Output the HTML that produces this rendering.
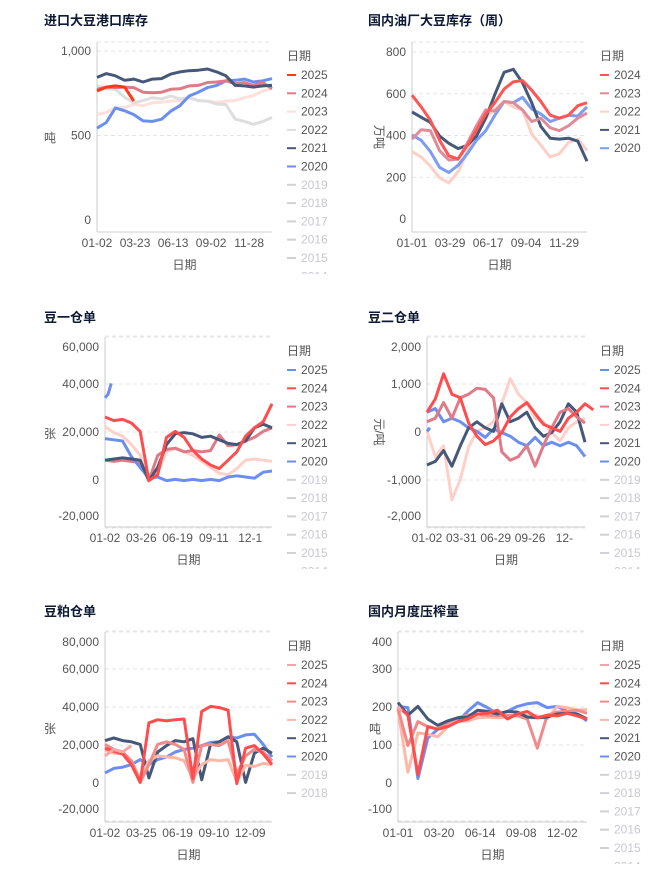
<!DOCTYPE html>
<html><head><meta charset="utf-8"><style>
body{margin:0;background:#fff;}
svg{display:block;font-family:"Liberation Sans","Noto Sans CJK SC",sans-serif;}
</style></head><body>
<svg id="c" width="672" height="876" viewBox="0 0 672 876"></svg>
<script>
// ---- data ----
const years = ["2025","2024","2023","2022","2021","2020","2019","2018","2017","2016","2015","2014"];
// Panel 1: 进口大豆港口库存
const p1_2025=[760,790,790,790,700];
const p1_2024=[770,790,780,790,780,760,750,760,770,780,790,800,810,820,820,810,810,800,810,780];
const p1_2023=[620,640,660,670,680,680,690,700,700,710,720,710,700,700,700,710,720,740,760,780];
const p1_2022=[790,780,770,730,690,710,720,720,730,720,720,710,700,690,680,600,580,570,580,610];
const p1_2021=[840,870,850,830,830,820,830,840,860,880,880,890,890,880,850,800,790,790,790,800];
const p1_2020=[540,580,660,650,620,590,580,600,640,680,730,760,780,800,820,830,830,820,820,840];
const p1_ticks=[0,500,1000];
const p1_xlabels=["01-02","03-23","06-13","09-02","11-28"];
// Panel 2: 国内油厂大豆库存（周）
const p2_2024=[590,540,470,380,300,290,350,430,500,560,620,660,660,620,560,500,480,500,540,560];
const p2_2023=[380,430,420,330,280,290,360,450,520,520,560,560,520,470,480,440,420,450,480,510];
const p2_2022=[320,300,250,200,170,230,320,400,480,530,560,540,520,410,350,300,310,370,380,330];
const p2_2021=[510,490,460,400,360,340,350,400,480,600,700,720,650,560,440,390,380,390,370,280];
const p2_2020=[400,380,320,250,220,260,310,380,420,500,560,560,580,530,500,470,480,500,490,540];
const p2_ticks=[0,200,400,600,800];
const p2_xlabels=["01-01","03-29","06-17","09-04","11-29"];
// Panel 3: 豆一仓单
const p3_2025=[34000,36000,40000];
const p3_2024=[26000,25000,25000,24000,20000,0,2000,18000,20000,18000,12000,9000,6000,5000,8000,12000,18000,22000,24000,32000];
const p3_2023=[8000,8000,8000,8000,7000,0,10000,13000,13000,12000,12000,12000,12000,19000,14000,15000,16000,18000,20000,22000];
const p3_2022=[22000,20000,18000,15000,10000,0,3000,12000,13000,12000,10000,8000,5000,3000,2000,5000,8000,9000,8000,8000];
const p3_2021=[8000,9000,9000,9000,8000,0,5000,15000,19000,20000,19000,18000,18000,17000,15000,15000,16000,22000,23000,22000];
const p3_2020=[17000,17000,16000,10000,5000,1000,1000,0,0,0,0,0,0,0,1000,2000,1000,1000,3000,4000];
const p3_ticks=[-20000,0,20000,40000,60000];
const p3_xlabels=["01-02","03-26","06-19","09-11","12-1"];
// Panel 4: 豆二仓单
const p4_2025=[0,100];
const p4_2024=[400,700,1200,800,700,200,-100,-250,-200,0,300,500,600,400,150,100,0,300,400,600,450];
const p4_2023=[200,300,600,300,700,800,900,900,700,-400,-600,-500,-300,-700,-300,100,400,500,300,200];
const p4_2022=[0,-500,-300,-1400,-1000,-300,0,100,200,600,1100,800,600,300,200,0,-200,100,200,300];
const p4_2021=[-700,-600,-400,-700,-300,100,200,100,0,600,200,300,400,100,-100,0,200,600,400,-200];
const p4_2020=[400,500,200,300,200,100,0,-100,50,0,-100,-200,-300,-100,-300,-200,-300,-200,-300,-500];
const p4_ticks=[-2000,-1000,0,1000,2000];
const p4_xlabels=["01-02","03-31","06-29","09-26","12-"];
// Panel 5: 豆粕仓单
const p5_2025=[14000,18000,16000,20000];
const p5_2024=[18000,17000,15000,10000,0,32000,33000,33000,33000,34000,2000,38000,40000,40000,38000,0,18000,20000,15000,10000];
const p5_2023=[20000,18000,16000,12000,0,10000,20000,22000,20000,18000,0,20000,20000,20000,22000,5000,14000,18000,16000,12000];
const p5_2022=[17000,16000,15000,12000,2000,12000,14000,14000,13000,12000,2000,10000,12000,12000,12000,1000,9000,9000,10000,10000];
const p5_2021=[22000,24000,22000,22000,20000,3000,16000,20000,22000,22000,23000,2000,20000,22000,24000,22000,0,16000,18000,16000];
const p5_2020=[5000,8000,8000,10000,12000,10000,12000,14000,16000,18000,18000,20000,21000,22000,24000,24000,25000,26000,20000,14000];
const p5_ticks=[-20000,0,20000,40000,60000,80000];
const p5_xlabels=["01-02","03-25","06-19","09-10","12-09"];
// Panel 6: 国内月度压榨量
const p6_2025=[200,190];
const p6_2024=[200,180,20,150,140,150,160,170,180,185,190,170,180,190,170,180,175,185,175,170];
const p6_2023=[195,100,160,150,140,160,170,180,180,180,175,180,175,170,90,180,185,190,190,185];
const p6_2022=[190,30,130,130,120,150,160,165,170,175,170,175,180,180,175,170,200,200,190,195];
const p6_2021=[210,180,200,170,150,165,170,175,190,190,180,190,185,175,170,175,180,185,180,170];
const p6_2020=[200,200,10,120,140,150,160,190,210,200,180,190,200,210,210,200,200,190,180,165];
const p6_ticks=[-100,0,100,200,300,400];
const p6_xlabels=["01-01","03-20","06-14","09-08","12-02"];

// ---- layout ----
const NS="http://www.w3.org/2000/svg";
const svg=document.getElementById('c');
function mk(tag,attrs,parent){const e=document.createElementNS(NS,tag);for(const k in attrs)e.setAttribute(k,attrs[k]);(parent||svg).appendChild(e);return e;}
function txt(s,attrs,parent){const e=mk('text',attrs,parent);e.textContent=s;return e;}

const panels=[
 {title:"进口大豆港口库存",tx:44,ty:25,x0:97,x1:272,top:42,bot:232,v0:0,y0:220,v1:1000,y1:51,ticks:p1_ticks,xl:p1_xlabels,ytitle:"吨",ytx:50,yty:142,
  leg:{x:287,y:56,start:0},series:[["2025",p1_2025,"#ff3a1a"],["2024",p1_2024,"#e07a86"],["2023",p1_2023,"#fde0dc"],["2022",p1_2022,"#dedede"],["2021",p1_2021,"#46587a"],["2020",p1_2020,"#6b8ff0"]],order:[2,3,5,1,4,0],name:"port-inventory"},
 {title:"国内油厂大豆库存（周）",tx:368,ty:25,x0:412,x1:587,top:42,bot:232,v0:0,y0:219,v1:800,y1:52,ticks:p2_ticks,xl:p2_xlabels,ytitle:"万吨",ytx:375,yty:137,vertical:true,
  leg:{x:600,y:56,start:1,count:5},series:[["2024",p2_2024,"#ff5555"],["2023",p2_2023,"#e08c98"],["2022",p2_2022,"#ffcfc5"],["2021",p2_2021,"#46587a"],["2020",p2_2020,"#7b9cf0"]],order:[2,4,3,1,0],name:"mill-inventory"},
 {title:"豆一仓单",tx:44,ty:322,x0:105,x1:272,top:337,bot:527,v0:0,y0:480,v1:60000,y1:336,ticks:p3_ticks,xl:p3_xlabels,ytitle:"张",ytx:50,yty:438,clamp:true,
  leg:{x:287,y:351,start:0},series:[["2025",p3_2025,"#6b8ff0"],["2024",p3_2024,"#ff4d4d"],["2023",p3_2023,"#e07a86"],["2022",p3_2022,"#ffd0c8"],["2021",p3_2021,"#46587a"],["2020",p3_2020,"#6b8ff0"]],order:[3,2,5,4,1,0],name:"soy1-warrants"},
 {title:"豆二仓单",tx:368,ty:322,x0:427,x1:585,top:337,bot:527,v0:0,y0:432,v1:1000,y1:384,ticks:p4_ticks,xl:p4_xlabels,ytitle:"元/吨",ytx:375,yty:432,vertical:true,clamp:true,
  leg:{x:600,y:351,start:0},series:[["2025",p4_2025,"#6b8ff0"],["2024",p4_2024,"#ff4d4d"],["2023",p4_2023,"#e07a86"],["2022",p4_2022,"#ffd0c8"],["2021",p4_2021,"#46587a"],["2020",p4_2020,"#6b8ff0"]],order:[3,5,4,2,1,0],name:"soy2-warrants"},
 {title:"豆粕仓单",tx:44,ty:616,x0:105,x1:272,top:632,bot:822,v0:0,y0:783,v1:80000,y1:631,ticks:p5_ticks,xl:p5_xlabels,ytitle:"张",ytx:50,yty:733,clamp:true,
  leg:{x:287,y:646,start:0,count:8},series:[["2025",p5_2025,"#f7a6a6"],["2024",p5_2024,"#ff4d4d"],["2023",p5_2023,"#f28a8a"],["2022",p5_2022,"#ffb8a8"],["2021",p5_2021,"#46587a"],["2020",p5_2020,"#6b8ff0"]],order:[5,4,3,2,1,0],name:"meal-warrants"},
 {title:"国内月度压榨量",tx:368,ty:616,x0:398,x1:587,top:632,bot:822,v0:0,y0:783,v1:400,y1:631,ticks:p6_ticks,xl:p6_xlabels,ytitle:"吨",ytx:375,yty:733,clamp:true,
  leg:{x:600,y:646,start:0},series:[["2025",p6_2025,"#f7a6a6"],["2024",p6_2024,"#ff4d4d"],["2023",p6_2023,"#f28a8a"],["2022",p6_2022,"#ffb8a8"],["2021",p6_2021,"#46587a"],["2020",p6_2020,"#6b8ff0"]],order:[5,3,2,4,1,0],name:"monthly-crush"}
];

panels.forEach((p,pi)=>{
  const g=mk('g',{});
  
  
  const yS=v=>p.y0+(v-p.v0)*(p.y1-p.y0)/(p.v1-p.v0);
  const t=txt(p.title,{x:p.tx,y:p.ty,'font-size':13,'font-weight':'bold',fill:'#0e1a35'},g);
  
  
  mk('line',{x1:p.x0,x2:p.x1,y1:p.top,y2:p.top,stroke:'#e6e6e6','stroke-dasharray':'4,3'},g);
  const tmin=Math.min(...p.ticks), tmax=Math.max(...p.ticks);
  p.ticks.forEach(v=>{
    const y=yS(v);
    if(v!==0) mk('line',{x1:p.x0,x2:p.x1,y1:y,y2:y,stroke:'#e6e6e6','stroke-dasharray':'4,3'},g);
    let ly=y;
    if(p.clamp&&v===tmax) ly=y+11;
    if(p.clamp&&v===tmin) ly=y-12;
    const l=txt(v.toLocaleString('en-US'),{x:p.x0-6,y:ly+4,'text-anchor':'end','font-size':12,fill:'#555'},g);
    
    
  });
  mk('line',{x1:p.x0,x2:p.x0,y1:p.top,y2:p.bot,stroke:'#ccc'},g);
  mk('line',{x1:p.x0,x2:p.x1,y1:p.bot,y2:p.bot,stroke:'#ccc'},g);
  const n=p.xl.length;
  p.xl.forEach((s,i)=>{
    const x=p.x0+i*(p.x1-p.x0)/(n-0.4);
    const l=txt(s,{x:x,y:p.bot+15,'text-anchor':'middle','font-size':12,fill:'#555'},g);
    
    
  });
  const xt=txt('日期',{x:(p.x0+p.x1)/2,y:p.bot+37,'text-anchor':'middle','font-size':12,fill:'#555'},g);
  
  
  let yt;
  if(p.vertical){
    yt=txt(p.ytitle,{x:p.ytx,y:p.yty,'text-anchor':'middle','font-size':12,fill:'#555',transform:`rotate(90 ${p.ytx} ${p.yty})`},g);
  } else {
    yt=txt(p.ytitle,{x:p.ytx,y:p.yty,'text-anchor':'middle','font-size':12,fill:'#555'},g);
  }
  
  
  const W=p.x1-p.x0, step=W/19;
  p.order.forEach(i=>{
    const [name,vals,col]=p.series[i];
    const pts=vals.map((v,k)=>{const jit=(k%2?0.6:-0.6);return (p.x0+k*step*(vals.length<=3?0.35:1)).toFixed(1)+','+(yS(v)+jit).toFixed(1);}).join(' ');
    const pl=mk('polyline',{points:pts,fill:'none',stroke:col,'stroke-width':3,'stroke-linejoin':'round'},g);
    
    
  });
  // legend with clip
  const cid='clip'+pi;
  const cp=mk('clipPath',{id:cid},g);
  mk('rect',{x:p.leg.x-5,y:p.leg.y-15,width:80,height:(p.bot+42)-(p.leg.y-15)},cp);
  const lg=mk('g',{'clip-path':`url(#${cid})`},g);
  
  
  txt('日期',{x:p.leg.x,y:p.leg.y+4,'font-size':12,fill:'#555'},lg);
  const cnt=p.leg.count||(12-p.leg.start);
  for(let k=0;k<cnt;k++){
    const yr=years[p.leg.start+k];
    const s=p.series.find(q=>q[0]===yr);
    const y=p.leg.y+19+k*18.3;
    const e=mk('g',{},lg);
    
    
    mk('line',{x1:p.leg.x,x2:p.leg.x+9,y1:y,y2:y,stroke:s?s[2]:'#d0d0d6','stroke-width':2},e);
    txt(yr,{x:p.leg.x+14,y:y+4,'font-size':12,fill:s?'#555':'#c8c8d0'},e);
  }
});
</script>
</body></html>
